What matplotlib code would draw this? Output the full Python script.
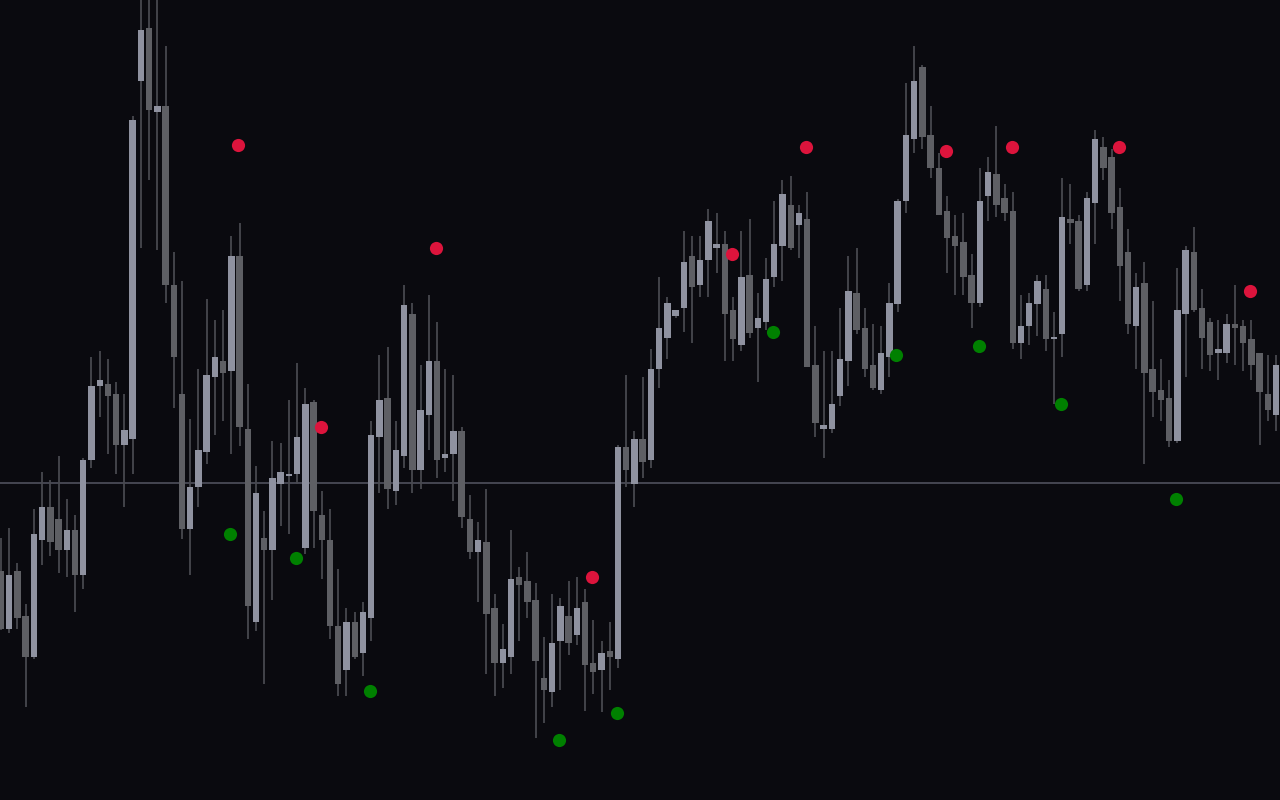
import matplotlib
matplotlib.use("Agg")
import matplotlib.pyplot as plt
import numpy as np

# ---- candle data (price units) ----
opens = [229,171,229,184,143,260,293,281,250,270,225,340,414,416,406,355,361,719,772,688,
         694,515,406,271,313,348,423,439,429,544,371,178,262,250,316,324,326,252,398,285,
         260,174,130,178,147,182,363,402,309,344,486,330,385,439,342,346,369,281,248,258,
         192,137,143,223,219,200,122,108,159,184,165,198,137,130,149,141,353,316,361,340,
         431,462,484,492,544,515,540,552,556,490,455,525,472,478,523,554,595,575,581,435,
         371,371,404,439,507,472,435,410,443,496,599,661,733,665,632,589,564,558,525,497,
         604,626,602,589,457,474,496,511,461,466,581,579,515,597,653,643,593,548,474,517,
         431,410,402,359,486,548,492,478,447,447,476,474,461,447,406,385]
highs = [262,272,237,196,291,328,320,344,301,285,342,443,449,441,418,406,684,805,802,805,
         754,548,519,381,431,501,480,490,564,577,416,334,289,359,357,400,437,412,400,309,
         291,231,192,188,198,379,445,453,379,515,497,435,505,478,431,425,373,305,278,311,
         206,176,270,233,248,217,163,206,202,219,223,211,180,159,178,355,425,369,423,451,
         523,503,490,569,564,564,591,587,569,503,569,581,507,542,599,620,624,595,608,474,
         449,449,492,544,552,492,476,474,517,601,717,754,735,694,647,604,585,587,546,632,
         643,674,616,608,505,507,525,525,488,622,616,585,608,670,663,651,612,571,527,538,
         499,441,420,532,554,573,511,482,480,486,515,480,480,447,445,445]
lows = [170,167,171,93,141,235,244,227,223,188,211,332,383,346,326,293,326,552,620,550,
        497,392,261,225,293,336,365,379,346,354,161,169,116,200,274,266,316,246,252,221,
        161,104,104,141,124,159,307,291,295,332,307,311,350,322,328,299,272,241,198,126,
        104,112,126,159,182,62,77,93,110,145,155,89,106,88,110,132,313,293,322,332,
        412,441,482,468,457,503,503,527,439,439,449,462,418,470,513,519,550,542,433,363,
        342,367,394,414,466,423,410,406,423,488,587,647,651,622,585,527,505,505,472,493,
        579,583,579,451,441,455,464,449,396,443,556,509,509,556,620,571,499,466,431,336,
        383,379,353,357,423,488,431,429,420,437,435,429,420,355,379,369]
closes = [171,225,182,143,266,293,258,250,270,225,340,414,420,404,355,370,680,770,690,694,
          515,443,271,313,350,425,443,427,544,373,194,307,250,322,328,326,363,396,289,260,
          174,116,178,143,188,365,400,311,350,495,330,390,439,340,346,369,283,248,260,186,
          137,151,221,215,198,139,110,157,194,157,192,135,128,147,143,353,330,361,338,431,
          472,497,490,538,513,540,579,556,486,461,523,467,482,521,556,606,552,587,433,377,
          375,396,441,509,470,431,412,447,497,599,665,719,663,632,585,562,554,523,497,599,
          628,595,587,457,474,497,519,461,463,583,577,511,602,661,632,587,534,476,513,427,
          408,400,359,490,550,490,462,445,451,476,472,457,435,408,390,435]

# pivot markers (candle index, price)
peak_idx = [29, 39, 53, 72, 89, 98, 115, 123, 136, 152]
peak_val = [655, 373, 552, 223, 546, 653, 649, 653, 653, 509]
trough_idx = [28, 36, 45, 68, 75, 94, 109, 119, 129, 143]
trough_val = [266, 242, 109, 60, 87, 468, 445, 454, 396, 301]

level = 317  # horizontal reference level

BG = "#0a0a0f"
BULL = "#8f92a0"
BEAR = "#5e5f64"
WICK = "#48494f"

fig = plt.figure(figsize=(12.8, 8), dpi=100, facecolor=BG)
ax = fig.add_axes([0, 0, 1, 1], facecolor=BG)

n = len(opens)
x = np.arange(n)
o = np.array(opens); h = np.array(highs); l = np.array(lows); c = np.array(closes)
up = c >= o
colors = np.where(up, BULL, BEAR)

ax.axhline(level, color="#4a4b56", lw=1.3, zorder=1)
ax.vlines(x, l, h, color=WICK, lw=1.3, zorder=2)
bottom = np.minimum(o, c)
height = np.maximum(np.abs(c - o), 1.5)
ax.bar(x, height, bottom=bottom, width=0.78, color=colors, linewidth=0, zorder=3)

dot_shift = -0.14
ax.scatter(np.array(peak_idx) + dot_shift, peak_val, s=90, color="#dc143c",
           zorder=4, linewidths=0)
ax.scatter(np.array(trough_idx) + dot_shift, trough_val, s=90, color="#008000",
           zorder=4, linewidths=0)

ax.set_xlim(-0.1216, 155.48)
ax.set_ylim(0, 800)
ax.axis("off")

fig.savefig("out.png", dpi=100, facecolor=BG)
